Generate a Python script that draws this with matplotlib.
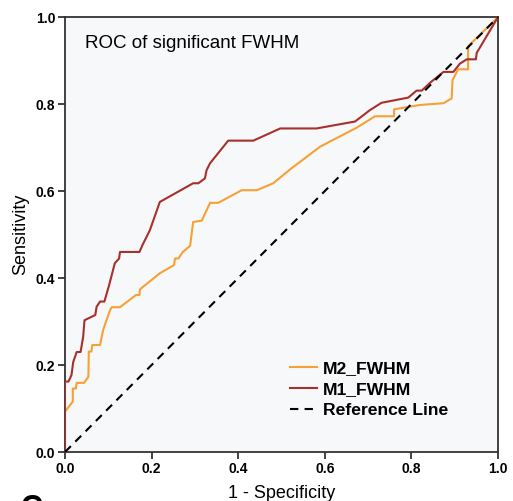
import matplotlib.pyplot as plt

plt.rcParams['font.family'] = ['Liberation Sans', 'DejaVu Sans']

# ROC points (1 - specificity, sensitivity)
m2_fpr = [0.0, 0.0, 0.018, 0.018, 0.025, 0.027, 0.044, 0.054, 0.055, 0.061, 0.063,
          0.081, 0.088, 0.092, 0.104, 0.108, 0.127, 0.164, 0.172, 0.173, 0.219,
          0.252, 0.254, 0.262, 0.272, 0.289, 0.296, 0.316, 0.335, 0.354, 0.408,
          0.443, 0.481, 0.520, 0.589, 0.674, 0.716, 0.760, 0.760, 0.820, 0.874,
          0.893, 0.895, 0.908, 0.931, 0.931, 1.0]
m2_tpr = [0.0, 0.093, 0.116, 0.146, 0.146, 0.159, 0.159, 0.173, 0.231, 0.231, 0.246,
          0.246, 0.280, 0.292, 0.326, 0.333, 0.333, 0.361, 0.361, 0.374, 0.411,
          0.430, 0.445, 0.445, 0.460, 0.474, 0.529, 0.532, 0.573, 0.573, 0.602,
          0.602, 0.618, 0.650, 0.702, 0.746, 0.772, 0.772, 0.788, 0.798, 0.802,
          0.813, 0.855, 0.880, 0.880, 0.933, 1.0]

m1_fpr = [0.0, 0.0, 0.008, 0.015, 0.019, 0.027, 0.036, 0.042, 0.045, 0.070, 0.073,
          0.081, 0.091, 0.102, 0.115, 0.125, 0.127, 0.172, 0.179, 0.196, 0.219,
          0.296, 0.308, 0.323, 0.327, 0.335, 0.377, 0.435, 0.497, 0.581, 0.670,
          0.704, 0.731, 0.793, 0.812, 0.824, 0.843, 0.874, 0.897, 0.912, 0.928,
          0.949, 0.951, 1.0]
m1_tpr = [0.0, 0.162, 0.162, 0.177, 0.207, 0.230, 0.230, 0.265, 0.303, 0.315, 0.334,
          0.346, 0.346, 0.384, 0.434, 0.445, 0.460, 0.460, 0.476, 0.510, 0.575,
          0.618, 0.618, 0.629, 0.648, 0.664, 0.716, 0.716, 0.744, 0.744, 0.760,
          0.786, 0.803, 0.815, 0.831, 0.831, 0.849, 0.874, 0.874, 0.893, 0.903,
          0.903, 0.918, 1.0]

ticks = [0.0, 0.2, 0.4, 0.6, 0.8, 1.0]
tick_labels = ['0.0', '0.2', '0.4', '0.6', '0.8', '1.0']

fig = plt.figure(figsize=(5.13, 5.01), dpi=100)
ax = fig.add_axes([0.1267, 0.0978, 0.844, 0.868])
ax.set_facecolor('#f7f8f9')

ax.plot(m2_fpr, m2_tpr, color='#f7a035', lw=1.5, label='M2_FWHM', zorder=3)
ax.plot(m1_fpr, m1_tpr, color='#a8302c', lw=1.5, label='M1_FWHM', zorder=3)
ax.plot([0, 1], [0, 1], color='black', lw=1.5, ls=(0, (4, 3)), label='Reference Line', zorder=4)

ax.set_xlim(0, 1)
ax.set_ylim(0, 1)
ax.set_xticks(ticks)
ax.set_xticklabels(tick_labels, fontweight='bold', fontsize=10)
ax.set_yticks(ticks)
ax.set_yticklabels(tick_labels, fontweight='bold', fontsize=10)
ax.tick_params(direction='out', length=5, width=1.3, color='#333333', pad=2)
for s in ax.spines.values():
    s.set_linewidth(1.3)
    s.set_color('#333333')

ax.set_xlabel('1 - Specificity', fontsize=13, labelpad=7)
ax.set_ylabel('Sensitivity', fontsize=13, labelpad=5)

ax.text(0.047, 0.94, 'ROC of significant FWHM', transform=ax.transAxes,
        fontsize=13.5, va='center', ha='left')

leg = ax.legend(loc='upper left', bbox_to_anchor=(0.52, 0.21), frameon=False,
                prop={'weight': 'bold', 'size': 12.6}, handlelength=1.55,
                handletextpad=0.3, labelspacing=0.33, borderpad=0, borderaxespad=0)

# panel letter, mostly cut off at the bottom edge as in the source figure
fig.text(0.04, 0.014, 'C', fontsize=22, fontweight='bold', va='top', ha='left')

fig.savefig('out.png', dpi=100)
